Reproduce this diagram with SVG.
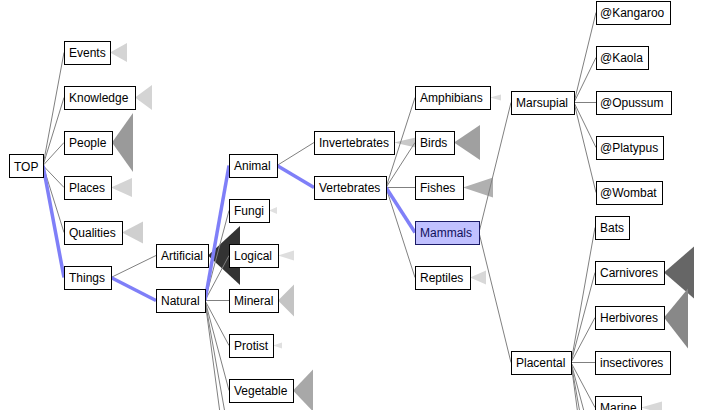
<svg xmlns="http://www.w3.org/2000/svg" width="728" height="410" viewBox="0 0 728 410">
<style>
.box rect.b{fill:#fff;stroke:#000;stroke-width:1}
.box rect.s{fill:#8a8a8a}
.box text{font-family:"Liberation Sans",Arial,sans-serif;font-size:12px;fill:#000}
.sel rect.b{fill:#c0c0ff;stroke:#1a1a66}
.sel text{fill:#10105a}
.c line{stroke:#808080;stroke-width:1}
.c line.h{stroke:#7f7ff8;stroke-width:3.5}
</style>
<rect width="728" height="410" fill="#fff"/>
<g id="collapsed">
<polygon points="110,52.5 127,43 127,62" fill="#d4d4d4"/>
<polygon points="135,97.5 152,85 152,110" fill="#d4d4d4"/>
<polygon points="112,142.5 133,113 133,172" fill="#9a9a9a"/>
<polygon points="111,187.5 132,178 132,197" fill="#d4d4d4"/>
<polygon points="122,232.5 143,221.5 143,243.5" fill="#cfcfcf"/>
<polygon points="208,255.5 240,226 240,285" fill="#333333"/>
<polygon points="269,210.5 277,207 277,214" fill="#e0e0e0"/>
<polygon points="278,255.5 294,250.5 294,260.5" fill="#dedede"/>
<polygon points="278,300.5 294,284.5 294,316.5" fill="#c4c4c4"/>
<polygon points="273,345.5 282,342.5 282,348.5" fill="#e0e0e0"/>
<polygon points="293,390.5 313,369.5 313,411.5" fill="#a8a8a8"/>
<polygon points="394,142.5 420,136.5 420,148.5" fill="#c8c8c8"/>
<polygon points="454,142.5 480,125 480,160" fill="#a0a0a0"/>
<polygon points="463,187.5 493,177.5 493,197.5" fill="#b0b0b0"/>
<polygon points="490,97.5 501,94.5 501,100.5" fill="#dcdcdc"/>
<polygon points="470,277.5 486,270.5 486,284.5" fill="#d8d8d8"/>
<polygon points="664,272.5 694,246.5 694,298.5" fill="#666666"/>
<polygon points="664,317.5 688,288.5 688,348.5" fill="#888888"/>
<polygon points="641,407.5 662,401.5 662,413.5" fill="#d8d8d8"/>
</g>
<g id="connectors" class="c">
<line x1="43" y1="165.5" x2="64" y2="52.5"/>
<line x1="43" y1="165.5" x2="64" y2="97.5"/>
<line x1="43" y1="165.5" x2="64" y2="142.5"/>
<line x1="43" y1="165.5" x2="64" y2="187.5"/>
<line x1="43" y1="165.5" x2="64" y2="232.5"/>
<line x1="111" y1="277.5" x2="156" y2="255.5"/>
<line x1="205" y1="300.5" x2="229" y2="210.5"/>
<line x1="205" y1="300.5" x2="229" y2="255.5"/>
<line x1="205" y1="300.5" x2="229" y2="300.5"/>
<line x1="205" y1="300.5" x2="229" y2="345.5"/>
<line x1="205" y1="300.5" x2="229" y2="390.5"/>
<line x1="205" y1="300.5" x2="229" y2="435.5"/>
<line x1="205" y1="300.5" x2="229" y2="480.5"/>
<line x1="277" y1="165.5" x2="314" y2="142.5"/>
<line x1="386" y1="187.5" x2="415" y2="97.5"/>
<line x1="386" y1="187.5" x2="415" y2="142.5"/>
<line x1="386" y1="187.5" x2="415" y2="187.5"/>
<line x1="386" y1="187.5" x2="415" y2="277.5"/>
<line x1="479" y1="232.5" x2="511" y2="102.5"/>
<line x1="479" y1="232.5" x2="511" y2="362.5"/>
<line x1="574" y1="102.5" x2="596" y2="12.5"/>
<line x1="574" y1="102.5" x2="596" y2="57.5"/>
<line x1="574" y1="102.5" x2="596" y2="102.5"/>
<line x1="574" y1="102.5" x2="596" y2="147.5"/>
<line x1="574" y1="102.5" x2="596" y2="192.5"/>
<line x1="571" y1="362.5" x2="595" y2="227.5"/>
<line x1="571" y1="362.5" x2="595" y2="272.5"/>
<line x1="571" y1="362.5" x2="595" y2="317.5"/>
<line x1="571" y1="362.5" x2="595" y2="362.5"/>
<line x1="571" y1="362.5" x2="595" y2="407.5"/>
<line x1="571" y1="362.5" x2="595" y2="452.5"/>
<line x1="571" y1="362.5" x2="595" y2="497.5"/>
<line x1="571" y1="362.5" x2="595" y2="542.5"/>
<line class="h" x1="43" y1="165.5" x2="64" y2="277.5"/>
<line class="h" x1="111" y1="277.5" x2="156" y2="300.5"/>
<line class="h" x1="205" y1="300.5" x2="229" y2="165.5"/>
<line class="h" x1="277" y1="165.5" x2="314" y2="187.5"/>
<line class="h" x1="386" y1="187.5" x2="415" y2="232.5"/>
</g>
<g id="n-top" class="box"><rect class="s" x="10" y="155" width="34" height="23"/><rect class="b" x="9.5" y="154.5" width="34" height="23"/><text x="14" y="171">TOP</text></g>
<g id="n-events" class="box"><rect class="s" x="65" y="42" width="46" height="23"/><rect class="b" x="64.5" y="41.5" width="46" height="23"/><text x="69" y="57">Events</text></g>
<g id="n-knowledge" class="box"><rect class="s" x="65" y="87" width="71" height="23"/><rect class="b" x="64.5" y="86.5" width="71" height="23"/><text x="69" y="102">Knowledge</text></g>
<g id="n-people" class="box"><rect class="s" x="65" y="132" width="48" height="23"/><rect class="b" x="64.5" y="131.5" width="48" height="23"/><text x="69" y="147">People</text></g>
<g id="n-places" class="box"><rect class="s" x="65" y="177" width="47" height="23"/><rect class="b" x="64.5" y="176.5" width="47" height="23"/><text x="69" y="192">Places</text></g>
<g id="n-qualities" class="box"><rect class="s" x="65" y="222" width="58" height="23"/><rect class="b" x="64.5" y="221.5" width="58" height="23"/><text x="69" y="237">Qualities</text></g>
<g id="n-things" class="box"><rect class="s" x="65" y="267" width="47" height="23"/><rect class="b" x="64.5" y="266.5" width="47" height="23"/><text x="69" y="282">Things</text></g>
<g id="n-artificial" class="box"><rect class="s" x="157" y="245" width="52" height="23"/><rect class="b" x="156.5" y="244.5" width="52" height="23"/><text x="161" y="260">Artificial</text></g>
<g id="n-natural" class="box"><rect class="s" x="157" y="290" width="49" height="23"/><rect class="b" x="156.5" y="289.5" width="49" height="23"/><text x="161" y="305">Natural</text></g>
<g id="n-animal" class="box"><rect class="s" x="230" y="155" width="48" height="23"/><rect class="b" x="229.5" y="154.5" width="48" height="23"/><text x="234" y="170">Animal</text></g>
<g id="n-fungi" class="box"><rect class="s" x="230" y="200" width="40" height="23"/><rect class="b" x="229.5" y="199.5" width="40" height="23"/><text x="234" y="215">Fungi</text></g>
<g id="n-logical" class="box"><rect class="s" x="230" y="245" width="49" height="23"/><rect class="b" x="229.5" y="244.5" width="49" height="23"/><text x="234" y="260">Logical</text></g>
<g id="n-mineral" class="box"><rect class="s" x="230" y="290" width="49" height="23"/><rect class="b" x="229.5" y="289.5" width="49" height="23"/><text x="234" y="305">Mineral</text></g>
<g id="n-protist" class="box"><rect class="s" x="230" y="335" width="44" height="23"/><rect class="b" x="229.5" y="334.5" width="44" height="23"/><text x="234" y="350">Protist</text></g>
<g id="n-vegetable" class="box"><rect class="s" x="230" y="380" width="64" height="23"/><rect class="b" x="229.5" y="379.5" width="64" height="23"/><text x="234" y="395">Vegetable</text></g>
<g id="n-invertebrates" class="box"><rect class="s" x="315" y="132" width="80" height="23"/><rect class="b" x="314.5" y="131.5" width="80" height="23"/><text x="319" y="147">Invertebrates</text></g>
<g id="n-vertebrates" class="box"><rect class="s" x="315" y="177" width="72" height="23"/><rect class="b" x="314.5" y="176.5" width="72" height="23"/><text x="319" y="192">Vertebrates</text></g>
<g id="n-amphibians" class="box"><rect class="s" x="416" y="87" width="75" height="23"/><rect class="b" x="415.5" y="86.5" width="75" height="23"/><text x="420" y="102">Amphibians</text></g>
<g id="n-birds" class="box"><rect class="s" x="416" y="132" width="39" height="23"/><rect class="b" x="415.5" y="131.5" width="39" height="23"/><text x="420" y="147">Birds</text></g>
<g id="n-fishes" class="box"><rect class="s" x="416" y="177" width="48" height="23"/><rect class="b" x="415.5" y="176.5" width="48" height="23"/><text x="420" y="192">Fishes</text></g>
<g id="n-mammals" class="box sel"><rect class="s" x="416" y="222" width="64" height="23"/><rect class="b" x="415.5" y="221.5" width="64" height="23"/><text x="420" y="237">Mammals</text></g>
<g id="n-reptiles" class="box"><rect class="s" x="416" y="267" width="55" height="23"/><rect class="b" x="415.5" y="266.5" width="55" height="23"/><text x="420" y="282">Reptiles</text></g>
<g id="n-marsupial" class="box"><rect class="s" x="512" y="92" width="63" height="23"/><rect class="b" x="511.5" y="91.5" width="63" height="23"/><text x="516" y="107">Marsupial</text></g>
<g id="n-placental" class="box"><rect class="s" x="512" y="352" width="60" height="23"/><rect class="b" x="511.5" y="351.5" width="60" height="23"/><text x="516" y="367">Placental</text></g>
<g id="n-kangaroo" class="box"><rect class="s" x="597" y="2" width="74" height="23"/><rect class="b" x="596.5" y="1.5" width="74" height="23"/><text x="600" y="17">@Kangaroo</text></g>
<g id="n-kaola" class="box"><rect class="s" x="597" y="47" width="52" height="23"/><rect class="b" x="596.5" y="46.5" width="52" height="23"/><text x="600" y="62">@Kaola</text></g>
<g id="n-opussum" class="box"><rect class="s" x="597" y="92" width="75" height="23"/><rect class="b" x="596.5" y="91.5" width="75" height="23"/><text x="600" y="107">@Opussum</text></g>
<g id="n-platypus" class="box"><rect class="s" x="597" y="137" width="67" height="23"/><rect class="b" x="596.5" y="136.5" width="67" height="23"/><text x="600" y="152">@Platypus</text></g>
<g id="n-wombat" class="box"><rect class="s" x="597" y="182" width="66" height="23"/><rect class="b" x="596.5" y="181.5" width="66" height="23"/><text x="600" y="197">@Wombat</text></g>
<g id="n-bats" class="box"><rect class="s" x="596" y="217" width="34" height="23"/><rect class="b" x="595.5" y="216.5" width="34" height="23"/><text x="600" y="232">Bats</text></g>
<g id="n-carnivores" class="box"><rect class="s" x="596" y="262" width="69" height="23"/><rect class="b" x="595.5" y="261.5" width="69" height="23"/><text x="600" y="277">Carnivores</text></g>
<g id="n-herbivores" class="box"><rect class="s" x="596" y="307" width="69" height="23"/><rect class="b" x="595.5" y="306.5" width="69" height="23"/><text x="600" y="322">Herbivores</text></g>
<g id="n-insectivores" class="box"><rect class="s" x="596" y="352" width="75" height="23"/><rect class="b" x="595.5" y="351.5" width="75" height="23"/><text x="600" y="367">insectivores</text></g>
<g id="n-marine" class="box"><rect class="s" x="596" y="397" width="46" height="23"/><rect class="b" x="595.5" y="396.5" width="46" height="23"/><text x="600" y="412">Marine</text></g>
</svg>
